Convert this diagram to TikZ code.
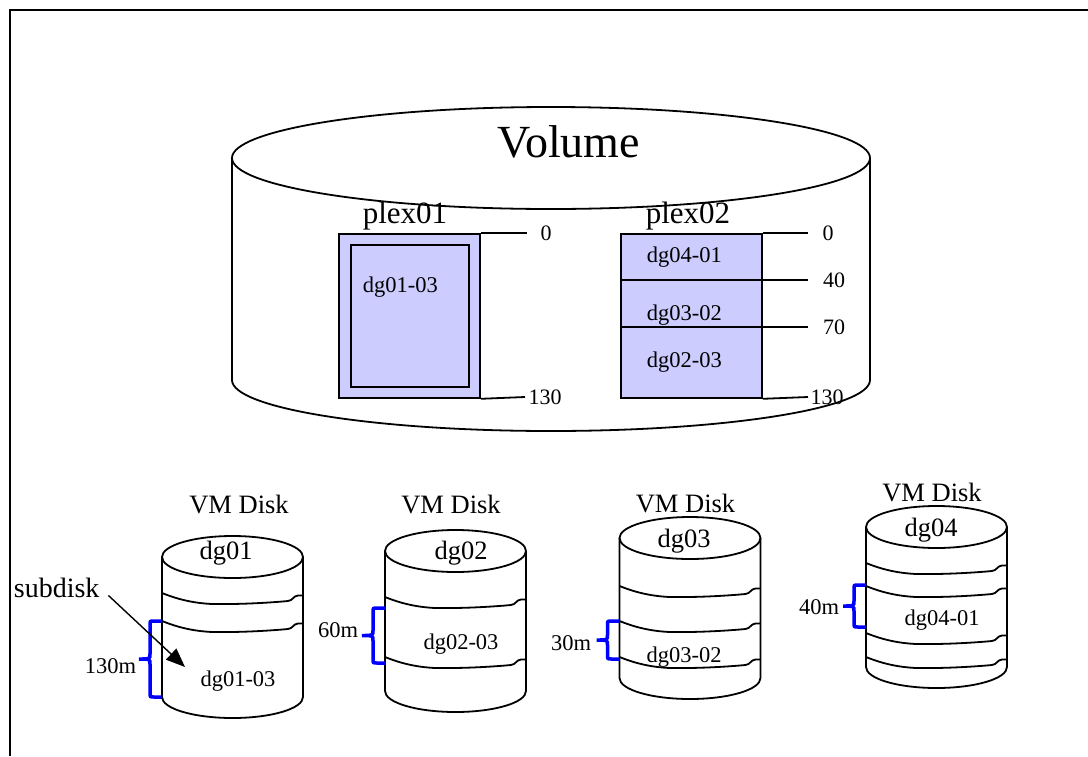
\documentclass[tikz,border=0pt]{standalone}
\usepackage{fontspec}
\setmainfont{Liberation Serif}
\usetikzlibrary{arrows.meta}
\definecolor{plexblue}{HTML}{CCCCFF}
\definecolor{sizeblue}{HTML}{0000FF}

% curly size mark left of a disk: side x, top y, bottom y
\newcommand{\sizebrace}[3]{%
  \pgfmathsetmacro{\bmid}{(#2+#3)/2}
  \draw[sizemark] (#1,#2) -- (#1-8,#2) .. controls (#1-12,#2) .. (#1-12,#2+4)
    -- (#1-12,\bmid-5) .. controls (#1-12,\bmid) .. (#1-23,\bmid)
    .. controls (#1-12,\bmid) .. (#1-12,\bmid+5) -- (#1-12,#3-4)
    .. controls (#1-12,#3) .. (#1-8,#3) -- (#1,#3);
}

\begin{document}
\begin{tikzpicture}[x=1pt, y=-1pt, line width=1.8,
    lbl/.style={inner sep=0, anchor=base},
    volumelbl/.style={lbl, font=\fontsize{46}{50}\selectfont},
    plexlbl/.style={lbl, font=\fontsize{31}{34}\selectfont},
    disklbl/.style={lbl, font=\fontsize{26.5}{30}\selectfont},
    sdlbl/.style={lbl, font=\fontsize{22.5}{26}\selectfont},
    offlbl/.style={inner sep=0, font=\fontsize{22}{25}\selectfont},
    plexbox/.style={draw, fill=plexblue, anchor=north west, inner sep=0},
    sizemark/.style={draw=sizeblue, line width=3.5},
    pointer/.style={-{Triangle[length=19pt,width=15pt]}, line width=1.4},
    vmdisk/.pic={
      \draw (-70.5,0) -- (-70.5,140) arc[start angle=180, end angle=0, x radius=70.5, y radius=21] -- (70.5,0);
      \draw (0,0) ellipse [x radius=70.5, y radius=21];
    },
    cutline/.pic={
      \draw (0,0) .. controls (15,6) and (30,10) .. (50,11) .. controls (80,11.5) and (110,9.5) .. (126,8)
        .. controls (131,7.5) and (131,3) .. (136,2.5) -- (141,2.5);
    }
  ]
  \useasboundingbox (0,0) rectangle (1088,756);

  % frame
  \draw[line width=2.6] (10,756) -- (10,10) -- (1088,10);

  % the volume
  \draw (551,158) ellipse [x radius=319, y radius=51];
  \draw (232,158) -- (232,380) arc[start angle=180, end angle=0, x radius=319, y radius=51] -- (870,158);
  \node[volumelbl] (volume) at (569,157) {Volume};

  % plexes
  \node[plexlbl] (plex01lbl) at (405,223) {plex01};
  \node[plexlbl] (plex02lbl) at (688,223) {plex02};

  \node[plexbox, minimum width=141, minimum height=164] (plex01) at (338,233) {};
  \node[plexbox, minimum width=118, minimum height=142] (sd0103) at (350,244) {};
  \node[sdlbl, anchor=base west] (sd0103lbl) at (362,292) {dg01-03};

  \node[plexbox, minimum width=141, minimum height=164] (plex02) at (620,233) {};
  \draw (620,280) -- (808,280);
  \draw (620,327) -- (808,327);
  \node[sdlbl, anchor=base west] (sd0401lbl) at (646,262) {dg04-01};
  \node[sdlbl, anchor=base west] (sd0302lbl) at (646,320) {dg03-02};
  \node[sdlbl, anchor=base west] (sd0203lbl) at (646,367) {dg02-03};

  % offsets
  \draw (plex01.north east) -- (527,233);
  \draw (plex01.south east) -- (525,397);
  \node[offlbl] (p1start) at (546,233) {0};
  \node[offlbl] (p1end) at (545,397) {130};

  \draw (plex02.north east) -- (808,233);
  \draw (plex02.south east) -- (808,397);
  \node[offlbl] (p2start) at (828,233) {0};
  \node[offlbl] (p2at40) at (834,280) {40};
  \node[offlbl] (p2at70) at (834,327) {70};
  \node[offlbl] (p2end) at (827,397) {130};

  % VM disks
  \pic at (232.5,557) {vmdisk};
  \pic at (455.5,551) {vmdisk};
  \pic at (690,538) {vmdisk};
  \pic at (936.5,527) {vmdisk};

  \pic at (162,593) {cutline};
  \pic at (162,621) {cutline};
  \pic at (385,597) {cutline};
  \pic at (385,657) {cutline};
  \pic at (619.5,586) {cutline};
  \pic at (619.5,621) {cutline};
  \pic at (619.5,657) {cutline};
  \pic at (866,563) {cutline};
  \pic at (866,586) {cutline};
  \pic at (866,633) {cutline};
  \pic at (866,657) {cutline};

  \node[disklbl] (vm1) at (239,513) {VM Disk};
  \node[disklbl] (vm2) at (451,513) {VM Disk};
  \node[disklbl] (vm3) at (685.5,512) {VM Disk};
  \node[disklbl] (vm4) at (932,501) {VM Disk};

  \node[disklbl] (dg01) at (226,559) {dg01};
  \node[disklbl] (dg02) at (461,559) {dg02};
  \node[disklbl] (dg03) at (684,547) {dg03};
  \node[disklbl] (dg04) at (931,536) {dg04};

  \node[sdlbl] (dg0103) at (238,686) {dg01-03};
  \node[sdlbl] (dg0203) at (461,649) {dg02-03};
  \node[sdlbl] (dg0302) at (684,662) {dg03-02};
  \node[sdlbl] (dg0401) at (942,625) {dg04-01};

  % subdisk sizes
  \sizebrace{162}{621}{697}
  \sizebrace{385}{608}{663}
  \sizebrace{619.5}{621}{659}
  \sizebrace{866}{585}{627}
  \node[sdlbl, anchor=base east] (sz130) at (137,673) {130m};
  \node[sdlbl, anchor=base east] (sz60) at (359,637) {60m};
  \node[sdlbl, anchor=base east] (sz30) at (592,650) {30m};
  \node[sdlbl, anchor=base east] (sz40) at (840,614) {40m};

  % pointer to a subdisk
  \node[disklbl, anchor=base west, font=\fontsize{28}{32}\selectfont] (subdisk) at (13,597) {subdisk};
  \coordinate (sdtip) at (185,667);
  \draw[pointer] ([xshift=8pt,yshift=-8pt]subdisk.east) -- (sdtip);
\end{tikzpicture}
\end{document}
